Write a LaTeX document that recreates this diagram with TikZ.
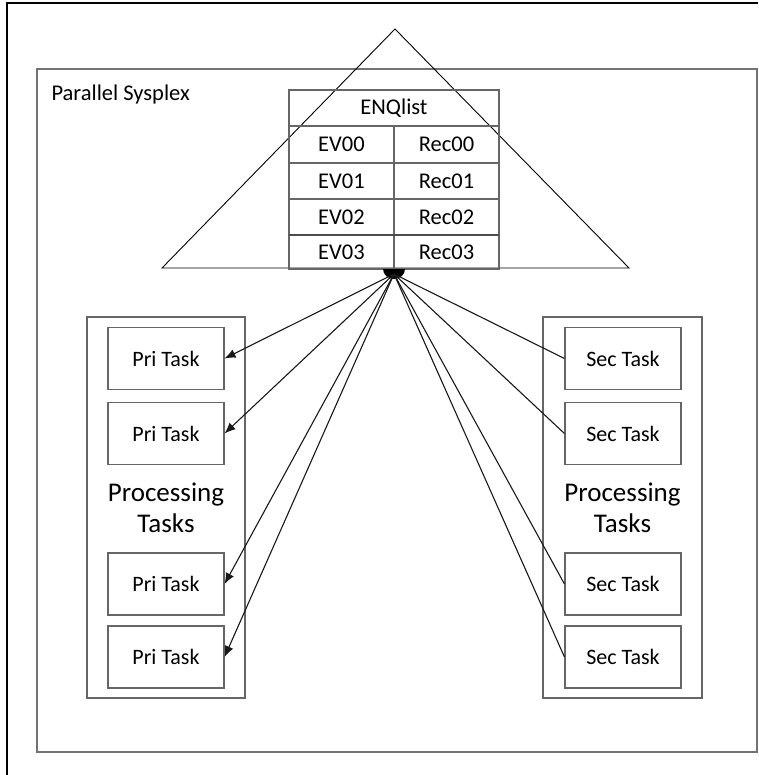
\documentclass[tikz,border=0pt]{standalone}
\usepackage{fontspec}
\setmainfont{Carlito}
\usetikzlibrary{arrows.meta}
\begin{document}
\begin{tikzpicture}[x=1pt,y=-1pt,
  frameline/.style={draw=black!55,line width=1.4pt},
  cellbox/.style={draw=black!60,line width=1.1pt,inner sep=0pt,anchor=center},
  taskbox/.style={draw=black!60,line width=1.1pt,minimum width=116pt,minimum height=62pt,inner sep=0pt,font=\fontsize{22}{26}\selectfont,text=black},
  label/.style={font=\fontsize{22.5}{26}\selectfont,text=black},
  biglabel/.style={font=\fontsize{27}{31}\selectfont,text=black,align=center},
  link/.style={draw=black!90,line width=1.1pt},
  arrow/.style={link,-{Latex[length=11pt,width=9pt]}}]
\useasboundingbox (0,0) rectangle (758,775);
\fill[white] (0,0) rectangle (758,775);

% outer page frame (top and left edges)
\draw[black,line width=1.2pt] (7,775) -- (7,3) -- (758,3);

% Parallel Sysplex region
\draw[frameline] (37,69) rectangle (757,752);
\node[label,anchor=west] (sysplex) at (48,95) {Parallel Sysplex};

% coupling facility triangle
\draw[black,line width=0.9pt] (162,268) -- (395,29) -- (629,268) -- cycle;

% ENQlist table
\node[cellbox,minimum width=210pt,minimum height=36pt,label] (enq) at (394,108) {ENQlist};
\node[cellbox,minimum width=105pt,minimum height=37pt,label] (ev0) at (341.5,144.5) {EV00};
\node[cellbox,minimum width=105pt,minimum height=37pt,label] (rc0) at (446.5,144.5) {Rec00};
\node[cellbox,minimum width=105pt,minimum height=36pt,label] (ev1) at (341.5,181) {EV01};
\node[cellbox,minimum width=105pt,minimum height=36pt,label] (rc1) at (446.5,181) {Rec01};
\node[cellbox,minimum width=105pt,minimum height=36pt,label] (ev2) at (341.5,217) {EV02};
\node[cellbox,minimum width=105pt,minimum height=36pt,label] (rc2) at (446.5,217) {Rec02};
\node[cellbox,minimum width=105pt,minimum height=34pt,label] (ev3) at (341.5,252) {EV03};
\node[cellbox,minimum width=105pt,minimum height=34pt,label] (rc3) at (446.5,252) {Rec03};
\draw[black!70,line width=1.6pt] (289,235) -- (499,235);

% connection hub below the table
\coordinate (hub) at (394,274);
\fill[black] (383,269) arc[start angle=180,end angle=0,x radius=11,y radius=10] -- cycle;

% primary processing tasks
\draw[draw=black!60,line width=1.1pt] (87,317) rectangle (245,698);
\node[taskbox] (p1) at (166,358.5) {Pri Task};
\node[taskbox] (p2) at (166,433.5) {Pri Task};
\node[taskbox] (p3) at (166,584) {Pri Task};
\node[taskbox] (p4) at (166,657) {Pri Task};
\node[biglabel] (ptasks) at (166,508) {Processing\\Tasks};

% secondary processing tasks
\draw[draw=black!60,line width=1.1pt] (543,317) rectangle (702,698);
\node[taskbox] (s1) at (623,358.5) {Sec Task};
\node[taskbox] (s2) at (623,433.5) {Sec Task};
\node[taskbox] (s3) at (623,584) {Sec Task};
\node[taskbox] (s4) at (623,657) {Sec Task};
\node[biglabel] (stasks) at (622.5,508) {Processing\\Tasks};

% connectors
\draw[arrow] (hub) -- (p1.east);
\draw[arrow] (hub) -- (p2.east);
\draw[arrow] (hub) -- (p3.east);
\draw[arrow] (hub) -- (p4.east);
\draw[link] (hub) -- (s1.west);
\draw[link] (hub) -- (s2.west);
\draw[link] (hub) -- (s3.west);
\draw[link] (hub) -- (s4.west);
\end{tikzpicture}
\end{document}
